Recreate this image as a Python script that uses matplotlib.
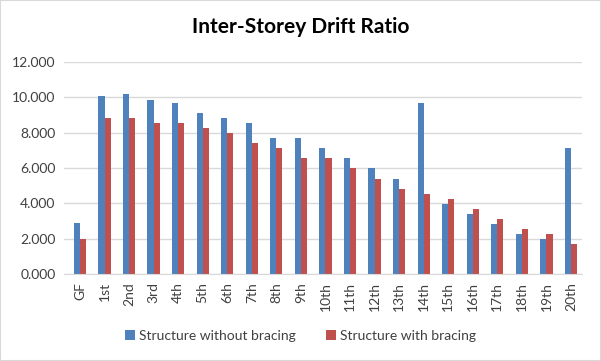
import numpy as np
import matplotlib.pyplot as plt

storeys = ['GF', '1st', '2nd', '3rd', '4th', '5th', '6th', '7th', '8th', '9th', '10th',
           '11th', '12th', '13th', '14th', '15th', '16th', '17th', '18th', '19th', '20th']
without_bracing = [2.91, 10.09, 10.20, 9.87, 9.70, 9.13, 8.85, 8.57, 7.72, 7.72, 7.15,
                   6.58, 6.02, 5.40, 9.70, 3.98, 3.42, 2.85, 2.28, 2.00, 7.15]
with_bracing = [1.98, 8.85, 8.85, 8.57, 8.57, 8.28, 8.00, 7.43, 7.15, 6.58, 6.58,
                6.02, 5.40, 4.83, 4.55, 4.26, 3.70, 3.13, 2.57, 2.28, 1.72]

plt.rcParams['font.family'] = ['Lato', 'DejaVu Sans']

fig = plt.figure(figsize=(6.01, 3.61), dpi=100)
ax = fig.add_axes([64 / 601, 1 - 274 / 361, 518 / 601, 212 / 361])

x = np.arange(len(storeys))
w = 0.25
ax.bar(x - w / 2, without_bracing, w, color='#4F81BD', label='Structure without bracing')
ax.bar(x + w / 2, with_bracing, w, color='#C0504D', label='Structure with bracing')

ax.set_xlim(-0.65, len(storeys) - 0.55)
ax.set_ylim(0, 12)
ax.set_yticks(np.arange(0, 12.1, 2))
ax.set_yticklabels(['%.3f' % v for v in np.arange(0, 12.1, 2)])
ax.set_xticks(x)
ax.set_xticklabels(storeys, rotation=90)
ax.tick_params(axis='both', length=0, labelsize=10, colors='#404040', pad=6)
ax.yaxis.grid(True, color='#D9D9D9', linewidth=1)
ax.set_axisbelow(True)
for s in ['top', 'right', 'left']:
    ax.spines[s].set_visible(False)
ax.spines['bottom'].set_color('#D9D9D9')

fig.text(0.5, 1 - 27 / 361, 'Inter-Storey Drift Ratio', ha='center', va='center',
         fontsize=15, fontweight='bold', color='black')

fig.legend(loc='center', bbox_to_anchor=(0.5, 1 - 336 / 361), ncol=2, frameon=False,
           fontsize=10, handlelength=0.7, handleheight=0.7, columnspacing=2.2,
           handletextpad=0.3, labelcolor='#404040')

border = plt.Rectangle((0, 0), 1, 1, transform=fig.transFigure, fill=False,
                       edgecolor='#D9D9D9', linewidth=1.5)
fig.patches.append(border)

fig.savefig('out.png', dpi=100)
